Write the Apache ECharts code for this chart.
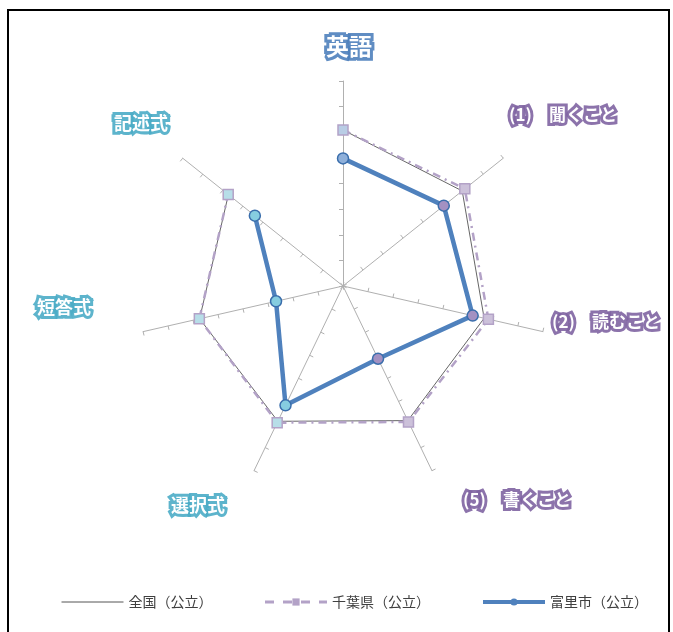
<!DOCTYPE html>
<html>
<head>
<meta charset="utf-8">
<script src="https://cdn.jsdelivr.net/npm/echarts@6/dist/echarts.min.js"></script>
<style>
html,body{margin:0;padding:0;background:#fff;}
#chart{width:673px;height:632px;}
</style>
</head>
<body>
<div id="chart"></div>
<script>
// categories in clockwise order starting at the top
const categories = ['英語', '(1)　聞くこと', '(2)　読むこと', '(5)　書くこと', '選択式', '短答式', '記述式'];
const seriesNames = ['全国（公立）', '千葉県（公立）', '富里市（公立）'];
const nationalValues = [60.9, 59.5, 56.5, 58.3, 58.6, 57.4, 57.2];
const chibaValues = [60.9, 60.8, 58.2, 58.9, 59.2, 57.5, 57.3];
const tomisatoValues = [49.8, 50.3, 51.9, 31.5, 51.7, 26.8, 44.0];
const axisMin = 0;
const axisMax = 80;
const axisSplit = 8;

// colour group per category: 0 = 英語 (blue), 1 = 領域 (purple), 2 = 形式 (cyan)
const groupOf = [0, 1, 1, 1, 2, 2, 2];
const groupText = ['#4f81bd', '#8064a2', '#4bacc6'];
const chibaFill = ['#b9cde5', '#ccc1da', '#b7dee8'];
const tomiFill = ['#8fb0da', '#a391c2', '#86cde0'];

const chart = echarts.init(document.getElementById('chart'));
const CX = 343, CY = 286, R = 205;
const font = '"Noto Sans CJK JP", "Noto Sans", sans-serif';

// radar indicators run counter-clockwise in ECharts, so reverse all but the first
const ccwIdx = [0, 6, 5, 4, 3, 2, 1];

function lineData(vals, withSymbol) {
  const d = vals.map((v, i) => ({
    value: [v, i],
    itemStyle: withSymbol ? { color: withSymbol[groupOf[i]] } : undefined
  }));
  d.push({ value: [vals[0], 0], symbol: 'none' });
  return d;
}

// axis name labels (text only): glow layer + white text layer
const labelPos = [
  [349, 46, 23], [563, 115, 17], [606, 322, 17], [517, 500, 17],
  [198, 505, 18], [64, 307, 18], [141, 123, 18]
];
const labelGraphics = [];
categories.forEach((c, i) => {
  const col = groupText[groupOf[i]];
  const f = 'bold ' + labelPos[i][2] + 'px ' + font;
  labelGraphics.push({
    type: 'text', x: labelPos[i][0], y: labelPos[i][1], z: 100,
    style: {
      text: c, fill: col, stroke: col, lineWidth: 6,
      shadowBlur: 6, shadowColor: col, opacity: 0.9,
      font: f, textAlign: 'center', textVerticalAlign: 'middle'
    }
  });
  labelGraphics.push({
    type: 'text', x: labelPos[i][0], y: labelPos[i][1], z: 101,
    style: {
      text: c, fill: '#ffffff',
      font: f, textAlign: 'center', textVerticalAlign: 'middle'
    }
  });
});

const option = {
  backgroundColor: '#ffffff',
  animation: false,
  radar: {
    center: [CX, CY],
    radius: R,
    startAngle: 90,
    shape: 'polygon',
    splitNumber: axisSplit,
    indicator: ccwIdx.map(i => ({ name: categories[i], min: axisMin, max: axisMax })),
    axisName: { show: false },
    axisLine: { lineStyle: { color: '#b0b0b0', width: 1 } },
    axisTick: { show: true, length: 4, lineStyle: { color: '#b0b0b0', width: 1 } },
    splitLine: { show: false },
    splitArea: { show: false },
    z: 1
  },
  polar: { center: [CX, CY], radius: R },
  angleAxis: {
    type: 'category', data: categories, startAngle: 90, clockwise: true, boundaryGap: false,
    show: false, axisLine: { show: false }, axisTick: { show: false }, axisLabel: { show: false }, splitLine: { show: false }
  },
  radiusAxis: {
    type: 'value', min: axisMin, max: axisMax, show: false,
    axisLine: { show: false }, axisTick: { show: false }, axisLabel: { show: false }, splitLine: { show: false }
  },
  legend: {
    left: 56, top: 590,
    itemWidth: 62, itemHeight: 9, itemGap: 51,
    textStyle: { fontSize: 14, color: '#404040', fontFamily: font },
    data: [
      { name: seriesNames[0], itemStyle: { opacity: 0 }, lineStyle: { width: 1, color: '#555555' } },
      { name: seriesNames[1], itemStyle: { color: '#b3a2c7', borderWidth: 0 }, lineStyle: { width: 3, type: [9, 9] } },
      { name: seriesNames[2], itemStyle: { color: '#4f81bd', borderWidth: 0 }, lineStyle: { width: 4 } }
    ]
  },
  series: [
    {
      name: seriesNames[0], type: 'line', coordinateSystem: 'polar',
      data: lineData(nationalValues, null), symbol: 'none', showSymbol: false,
      lineStyle: { color: '#666666', width: 1 }, itemStyle: { color: '#666666' }, z: 3
    },
    {
      name: seriesNames[1], type: 'line', coordinateSystem: 'polar',
      data: lineData(chibaValues, chibaFill), symbol: 'rect', symbolSize: 10,
      lineStyle: { color: '#b3a2c7', width: 2.5, type: [8, 5, 2, 5] },
      itemStyle: { color: '#ccc1da', borderColor: '#b3a2c7', borderWidth: 1.5 }, z: 4
    },
    {
      name: seriesNames[2], type: 'line', coordinateSystem: 'polar',
      data: lineData(tomisatoValues, tomiFill), symbol: 'circle', symbolSize: 11,
      lineStyle: { color: '#4f81bd', width: 4.5 },
      itemStyle: { color: '#4f81bd', borderColor: '#3a6eac', borderWidth: 1.5 }, z: 5
    }
  ],
  graphic: [
    {
      type: 'rect', shape: { x: 8, y: 10, width: 661, height: 640 },
      style: { fill: 'none', stroke: '#000000', lineWidth: 2 }, z: 0, silent: true
    }
  ].concat(labelGraphics)
};
chart.setOption(option);
</script>
</body>
</html>
